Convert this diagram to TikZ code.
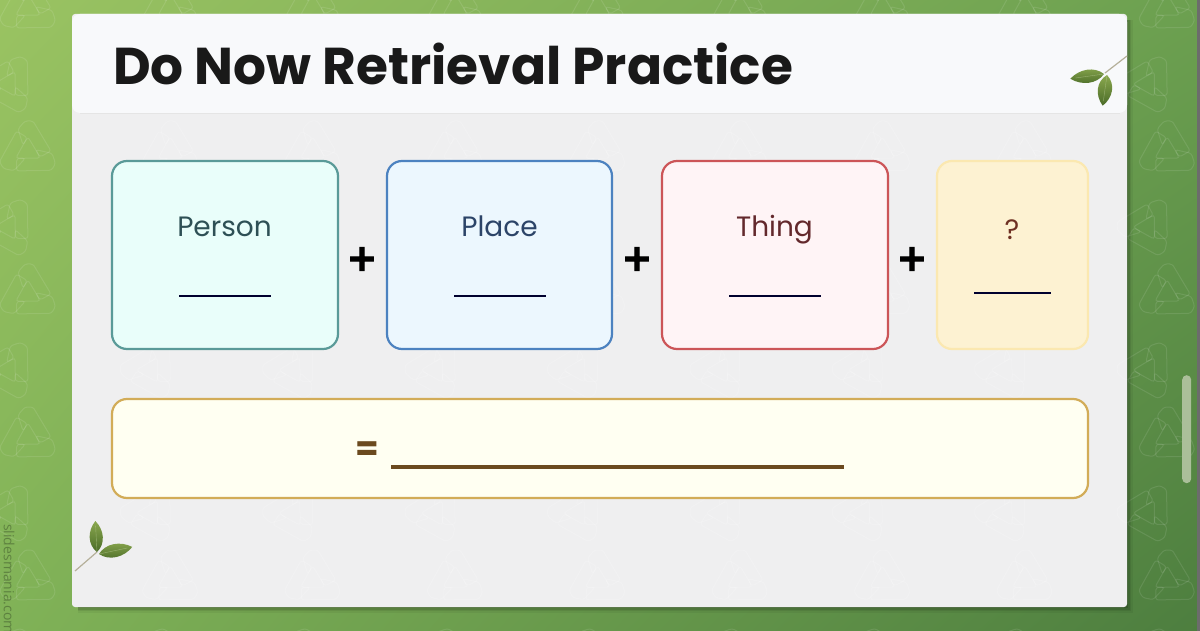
\documentclass[tikz,border=0pt]{standalone}
\usepackage{fontspec}
\setmainfont{Poppins}
\newfontfamily\signfont[BoldFeatures={FakeBold=2.2}]{DejaVu Sans}
\newfontfamily\creditfont{Open Sans}
\usetikzlibrary{shadings}
\definecolor{gTL}{HTML}{9AC362}
\definecolor{gTR}{HTML}{6CA050}
\definecolor{gBL}{HTML}{80B257}
\definecolor{gBR}{HTML}{4D7E3F}
\definecolor{bodygrey}{HTML}{EFEFF0}
\definecolor{headwhite}{HTML}{F8F9FB}
\definecolor{tealedge}{HTML}{5A9A98}
\definecolor{tealfill}{HTML}{E9FEFA}
\definecolor{tealtext}{HTML}{2E5055}
\definecolor{blueedge}{HTML}{4C82C0}
\definecolor{bluefill}{HTML}{ECF7FE}
\definecolor{bluetext}{HTML}{2C4468}
\definecolor{rededge}{HTML}{CC5558}
\definecolor{redfill}{HTML}{FFF4F6}
\definecolor{redtext}{HTML}{63282C}
\definecolor{creamedge}{HTML}{FBE8B0}
\definecolor{creamfill}{HTML}{FDF2D2}
\definecolor{querytext}{HTML}{6E3022}
\definecolor{goldedge}{HTML}{D2AC58}
\definecolor{goldfill}{HTML}{FFFFF2}
\definecolor{umber}{HTML}{6B4A1F}
\definecolor{leaflight}{HTML}{8AA84E}
\definecolor{leafdark}{HTML}{4A6B28}
\definecolor{stem}{HTML}{B5B09A}
\tikzset{
  card/.style={draw=#1, line width=2.2pt, rounded corners=15pt},
  cardlabel/.style={font=\fontsize{28}{32}\selectfont, inner sep=0pt, anchor=base},
  blank/.style={line width=1.8pt, color=black!82!blue},
  sign/.style={font=\signfont\bfseries\fontsize{37}{40}\selectfont, inner sep=0pt, anchor=center},
  chunk/.style={rounded corners=2.5pt, line width=1pt, fill=none},
}
% one recycling emblem: three outlined bent bands around a centre
\newcommand{\emblem}[4]{%
  \begin{scope}[shift={(#1,#2)}, rotate=#3, draw=#4]
    \foreach \a in {0,120,240}{
      \draw[chunk, rotate=\a] (-10,-22) -- (-3,-30) -- (5,-30) -- (23,0) -- (12,6) -- (0,-14) -- (-5,-6) -- cycle;
    }
  \end{scope}}
% one leaf: base point, direction, length, half width
\newcommand{\leafat}[4]{%
  \begin{scope}[shift={(#1)}, rotate=#2]
    \shade[top color=leaflight, bottom color=leafdark]
      (0,0) .. controls (#3*0.25,#4*1.4) and (#3*0.7,#4*1.3) .. (#3,0)
            .. controls (#3*0.7,-#4*1.3) and (#3*0.25,-#4*1.4) .. (0,0) -- cycle;
    \draw[leaflight!60!white, line width=0.4pt, opacity=.6] (0,0) -- (#3*0.85,0);
  \end{scope}}
\begin{document}
\begin{tikzpicture}[x=1pt,y=-1pt]
\useasboundingbox (0,0) rectangle (1200,631);
% backdrop
\shade[upper left=gTL, upper right=gTR, lower left=gBL, lower right=gBR] (0,0) rectangle (1200,631);
\begin{scope}
  \clip (0,0) rectangle (1197,631);
  \foreach \i in {0,...,8}{
    \foreach \j in {0,...,4}{
      \emblem{28+142.4*\i}{8+143*\j}{0}{white, draw opacity=.10}
      \emblem{8+142.4*\i}{84+143*\j}{90}{white, draw opacity=.10}
    }
  }
\end{scope}
\fill[gray!85!black] (1197,0) rectangle (1200,631);
\node[fill=white!45!gBL!75!gray, rounded corners=4.5pt, minimum width=9pt, minimum height=108pt, inner sep=0pt, anchor=north west] (scrollbar) at (1182,375) {};
% slide sheet with a soft shadow
\foreach \d/\o in {6/.05,4/.07,2.5/.10,1/.12}{
  \fill[black, opacity=\o] (78,20) rectangle (1127+\d,607+\d);
}
\fill[bodygrey, rounded corners=3pt] (72,14) rectangle (1127,607);
\begin{scope}
  \clip (72,113) rectangle (1127,607);
  \foreach \i in {0,...,8}{
    \foreach \j in {0,...,4}{
      \emblem{28+142.4*\i}{8+143*\j}{0}{white, draw opacity=.16}
      \emblem{8+142.4*\i}{84+143*\j}{90}{white, draw opacity=.16}
    }
  }
\end{scope}
\fill[headwhite, rounded corners=8pt] (72,14) rectangle (1127,113);
\draw[black!10, line width=.8pt] (80,113.3) -- (1120,113.3);
\node[font=\bfseries\fontsize{51.8}{56}\selectfont, text=black!90, inner sep=0pt, anchor=west] (title) at (113,63.5) {Do Now Retrieval Practice};
% branch in the header corner
\draw[stem, line width=1.2pt] (1127,56) -- (1105,73);
\leafat{1104,74}{188}{34}{6.5}
\leafat{1107,75}{-98}{31}{7}
% the four term cards
\draw[card=tealedge, fill=tealfill] (112,161) rectangle (338,349);
\draw[card=blueedge, fill=bluefill] (387,161) rectangle (612,349);
\draw[card=rededge, fill=redfill] (662,161) rectangle (888,349);
\draw[card=creamedge, fill=creamfill] (937,161) rectangle (1088,349);
\node[cardlabel, text=tealtext] (person) at (224.5,236.5) {Person};
\node[cardlabel, text=bluetext] (place) at (499.5,236.5) {Place};
\node[cardlabel, text=redtext] (thing) at (774.5,236.5) {Thing};
\node[cardlabel, text=querytext] (what) at (1012,239.5) {?};
\draw[blank] (179,296) -- (271,296);
\draw[blank] (454,296) -- (546,296);
\draw[blank] (729,296) -- (821,296);
\draw[blank] (974,293) -- (1051,293);
\node[sign] (plusA) at (362,259) {+};
\node[sign] (plusB) at (637,259) {+};
\node[sign] (plusC) at (912,259) {+};
% the result card
\draw[card=goldedge, fill=goldfill] (112,399) rectangle (1088,498);
\node[text=umber, inner sep=0pt, font=\bfseries\fontsize{34}{38}\selectfont] (equals) at (367.5,451) {=};
\draw[umber, line width=4pt] (391,467) -- (844,467);
% branch in the lower corner
\draw[stem, line width=1.2pt] (75,571) -- (97,552);
\leafat{97,552}{93}{31}{6.5}
\leafat{99,554}{12}{34}{6.5}
% vertical credit line
\node[rotate=-90, anchor=west, inner sep=0pt, text=black!50!gBL, opacity=.55, font=\creditfont\fontsize{14}{17}\selectfont] (credit) at (9,524) {slidesmania.com};
\end{tikzpicture}
\end{document}
